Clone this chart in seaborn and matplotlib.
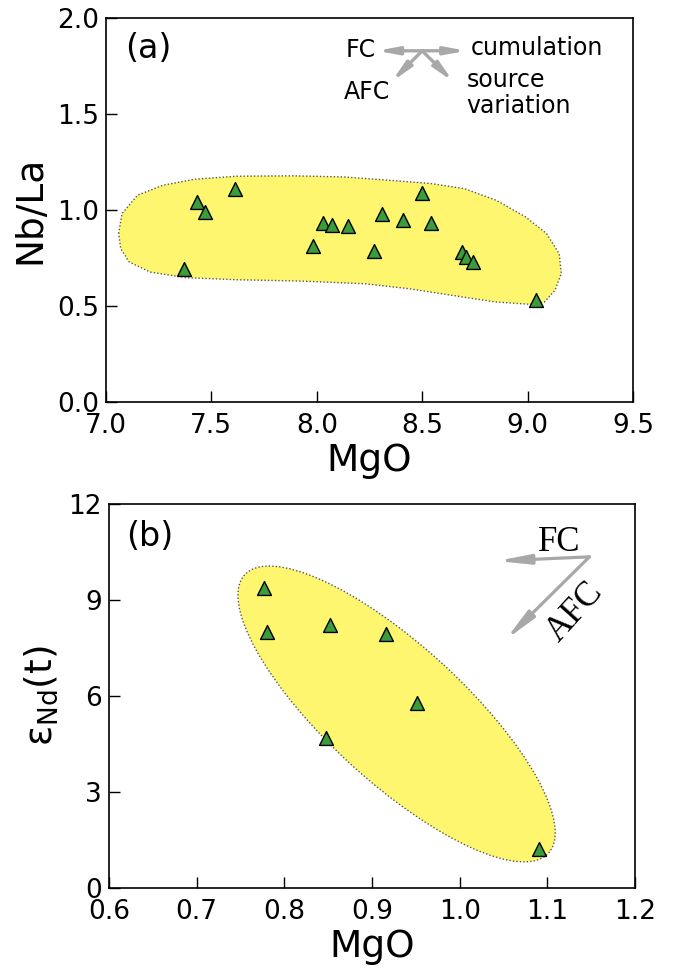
import numpy as np
import pandas as pd
import seaborn as sns
import matplotlib
matplotlib.use('Agg')
import matplotlib.pyplot as plt
from matplotlib.patches import Ellipse
from matplotlib.transforms import ScaledTranslation

# Datos
# (a) MgO vs Nb/La
mgo_a = [7.37, 7.43, 7.47, 7.61, 7.98, 8.03, 8.07, 8.15, 8.27, 8.31,
         8.41, 8.50, 8.54, 8.69, 8.71, 8.74, 9.04]
nbla = [0.69, 1.04, 0.99, 1.11, 0.81, 0.93, 0.92, 0.915, 0.785, 0.98,
        0.945, 1.09, 0.93, 0.78, 0.755, 0.73, 0.53]

# (b) MgO vs eNd(t)
mgo_b = [0.777, 0.780, 0.852, 0.916, 0.951, 0.848, 1.090]
end_t = [9.37, 8.01, 8.22, 7.94, 5.79, 4.69, 1.23]

# Contorno del campo amarillo en (a)
blob_x = [7.06, 7.076, 7.15, 7.27, 7.42, 7.62, 7.89, 8.13, 8.34, 8.54, 8.70,
          8.85, 8.99, 9.09, 9.15, 9.16, 9.13, 9.08, 9.01, 8.85, 8.64, 8.44,
          8.23, 7.93, 7.62, 7.38, 7.21, 7.11, 7.07]
blob_y = [0.876, 0.98, 1.076, 1.128, 1.159, 1.175, 1.177, 1.171, 1.154, 1.137,
          1.11, 1.05, 0.963, 0.876, 0.771, 0.667, 0.58, 0.519, 0.507, 0.519,
          0.554, 0.588, 0.614, 0.628, 0.635, 0.646, 0.675, 0.728, 0.797]

# Elipse en (b): centro en datos
ell_cx, ell_cy = 0.928, 5.44

df_a = pd.DataFrame({'MgO': mgo_a, 'NbLa': nbla})
df_b = pd.DataFrame({'MgO': mgo_b, 'eNd': end_t})

sns.set_style('white')
plt.rcParams['font.family'] = ['DejaVu Sans']
plt.rcParams['mathtext.fontset'] = 'dejavusans'
plt.rcParams['text.color'] = 'black'
plt.rcParams['axes.labelcolor'] = 'black'
plt.rcParams['xtick.color'] = 'black'
plt.rcParams['ytick.color'] = 'black'

fig = plt.figure(figsize=(6.75, 9.68), dpi=100)
ax_a = fig.add_axes([0.157, 0.5852, 0.7807, 0.3962])
ax_b = fig.add_axes([0.1615, 0.0826, 0.7793, 0.3967])

yellow = '#fff670'
green = '#3c9c3c'
grey = '#a8a8a8'

#### Panel (a)
ax_a.fill(blob_x, blob_y, facecolor=yellow, edgecolor='#555555',
          linestyle=(0, (1, 1.5)), linewidth=1.0, zorder=1)
sns.scatterplot(data=df_a, x='MgO', y='NbLa', marker='^', s=100, color=green,
                edgecolor='black', linewidth=1.0, ax=ax_a, zorder=3)
ax_a.set_xlim(7.0, 9.5)
ax_a.set_ylim(0.0, 2.0)
ax_a.set_xticks([7.0, 7.5, 8.0, 8.5, 9.0, 9.5])
ax_a.set_yticks([0.0, 0.5, 1.0, 1.5, 2.0])
ax_a.xaxis.set_major_formatter(matplotlib.ticker.FormatStrFormatter('%.1f'))
ax_a.yaxis.set_major_formatter(matplotlib.ticker.FormatStrFormatter('%.1f'))
ax_a.set_xlabel('MgO', fontsize=27, labelpad=3)
ax_a.set_ylabel('Nb/La', fontsize=27, labelpad=6)
ax_a.text(7.20, 1.84, '(a)', fontsize=24, ha='center', va='center')

arr_a = dict(arrowstyle='-|>,head_length=1.2,head_width=0.22', color=grey,
             lw=2.4, shrinkA=0, shrinkB=0)
origin_a = (8.50, 1.829)
for end in [(8.284, 1.829), (8.711, 1.829), (8.355, 1.668), (8.648, 1.668)]:
    ax_a.annotate('', xy=end, xytext=origin_a, arrowprops=arr_a, zorder=4)
ax_a.text(8.28, 1.834, 'FC', fontsize=17, ha='right', va='center')
ax_a.text(8.73, 1.845, 'cumulation', fontsize=17, ha='left', va='center')
ax_a.text(8.24, 1.612, 'AFC', fontsize=17, ha='center', va='center')
ax_a.text(8.71, 1.676, 'source', fontsize=17, ha='left', va='center')
ax_a.text(8.71, 1.54, 'variation', fontsize=17, ha='left', va='center')

#### Panel (b)
trans = fig.dpi_scale_trans + ScaledTranslation(ell_cx, ell_cy, ax_b.transData)
ell = Ellipse((0, 0), width=4.12, height=1.36, angle=137.5, transform=trans,
              facecolor=yellow, edgecolor='#555555', linestyle=(0, (1, 1.5)),
              linewidth=1.0, zorder=1)
ax_b.add_patch(ell)
sns.scatterplot(data=df_b, x='MgO', y='eNd', marker='^', s=100, color=green,
                edgecolor='black', linewidth=1.0, ax=ax_b, zorder=3)
ax_b.set_xlim(0.6, 1.2)
ax_b.set_ylim(0, 12)
ax_b.set_xticks([0.6, 0.7, 0.8, 0.9, 1.0, 1.1, 1.2])
ax_b.set_yticks([0, 3, 6, 9, 12])
ax_b.xaxis.set_major_formatter(matplotlib.ticker.FormatStrFormatter('%.1f'))
ax_b.set_xlabel('MgO', fontsize=27, labelpad=3)
ax_b.set_ylabel(r'ε$_{\mathregular{Nd}}$(t)', fontsize=27, labelpad=6)
ax_b.text(0.647, 10.98, '(b)', fontsize=24, ha='center', va='center')

arr_b = dict(arrowstyle='-|>,head_length=1.9,head_width=0.28', color=grey,
             lw=2.3, shrinkA=0, shrinkB=0)
origin_b = (1.148, 10.35)
for end in [(1.042, 10.22), (1.052, 7.75)]:
    ax_b.annotate('', xy=end, xytext=origin_b, arrowprops=arr_b, zorder=4)
ax_b.text(1.114, 10.80, 'FC', fontsize=25, family='Liberation Serif',
          ha='center', va='center')
ax_b.text(1.132, 8.63, 'AFC', fontsize=25, family='Liberation Serif',
          rotation=48, ha='center', va='center')

for ax in [ax_a, ax_b]:
    ax.tick_params(axis='both', direction='in', length=8, width=1.0,
                   labelsize=19, bottom=True, left=True, top=False, right=False)
    ax.tick_params(axis='x', pad=8)
    ax.tick_params(axis='y', pad=5)
    for sp in ax.spines.values():
        sp.set_linewidth(1.2)
        sp.set_color('black')

plt.savefig('out.png', dpi=100)
